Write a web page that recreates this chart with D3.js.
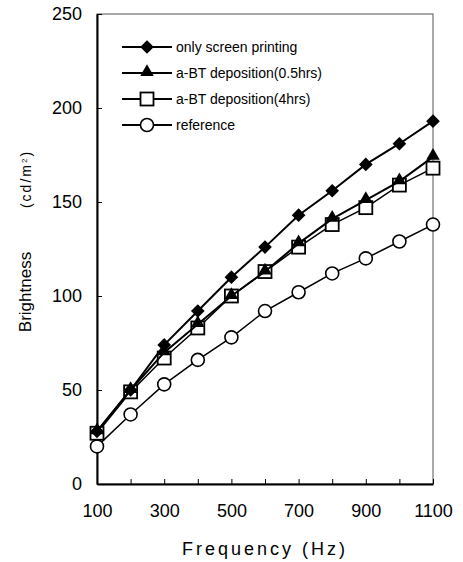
<!DOCTYPE html>
<html>
<head>
<meta charset="utf-8">
<script src="https://cdn.jsdelivr.net/npm/d3@7"></script>
<style>
  body { margin: 0; background: #fff; }
  svg text { font-family: "Liberation Sans", Arial, sans-serif; fill: #000; }
</style>
</head>
<body>
<div id="chart"></div>
<script>
// data
const frequency = [100, 200, 300, 400, 500, 600, 700, 800, 900, 1000, 1100];
const screenPrinting = [28, 50, 74, 92, 110, 126, 143, 156, 170, 181, 193];
const bt05hrs = [28, 50, 70, 85, 100, 113, 128, 141, 151, 161, 174];
const bt4hrs = [27, 49, 67, 83, 100, 113, 126, 138, 147, 159, 168];
const reference = [20, 37, 53, 66, 78, 92, 102, 112, 120, 129, 138];

const seriesNames = ["only screen printing", "a-BT deposition(0.5hrs)", "a-BT deposition(4hrs)", "reference"];
const seriesValues = [screenPrinting, bt05hrs, bt4hrs, reference];
const seriesMarkers = ["diamond", "triangle", "square", "circle"];

const xTicks = [100, 300, 500, 700, 900, 1100];
const yTicks = [0, 50, 100, 150, 200, 250];

const width = 463, height = 562;
const margin = {top: 14, right: 30, bottom: 78, left: 97};

let svg = d3.select("#chart")
    .append("svg")
    .attr("width", width)
    .attr("height", height);

let x = d3.scaleLinear()
    .domain([100, 1100])
    .range([margin.left, width - margin.right]);

let y = d3.scaleLinear()
    .domain([0, 250])
    .range([height - margin.bottom, margin.top]);

// frame
svg.append("rect")
    .attr("x", x(100))
    .attr("y", y(250))
    .attr("width", x(1100) - x(100))
    .attr("height", y(0) - y(250))
    .attr("fill", "none")
    .attr("stroke", "#555")
    .attr("stroke-width", 1);

// axes with inward ticks
let xAxis = d3.axisBottom(x)
    .tickValues(d3.range(100, 1101, 100))
    .tickSizeInner(-5)
    .tickSizeOuter(0)
    .tickFormat(d => xTicks.includes(d) ? d : "")
    .tickPadding(20);

let gx = svg.append("g")
    .attr("transform", `translate(0,${y(0)})`)
    .call(xAxis);

let yAxis = d3.axisLeft(y)
    .tickValues(yTicks)
    .tickSizeInner(-5)
    .tickSizeOuter(0)
    .tickPadding(15);

let gy = svg.append("g")
    .attr("transform", `translate(${x(100)},0)`)
    .call(yAxis);

[gx, gy].forEach(g => {
    g.select(".domain").attr("stroke", "#000").attr("stroke-width", 2);
    g.selectAll(".tick line").attr("stroke", "#000").attr("stroke-width", 1);
    g.selectAll(".tick text")
        .style("font-family", "Liberation Sans, Arial, sans-serif")
        .style("font-size", "18px")
        .attr("fill", "#000");
});

// axis titles
svg.append("text")
    .attr("x", (x(100) + x(1100)) / 2)
    .attr("y", 555)
    .attr("text-anchor", "middle")
    .style("font-size", "18px")
    .style("letter-spacing", "3px")
    .text("Frequency (Hz)");

svg.append("text")
    .attr("transform", "translate(31,292) rotate(-90)")
    .attr("text-anchor", "middle")
    .style("font-size", "17px")
    .text("Brightness");

let unit = svg.append("text")
    .attr("transform", "translate(31,179) rotate(-90)")
    .attr("text-anchor", "middle")
    .style("font-size", "14px")
    .style("letter-spacing", "2px");
unit.append("tspan").text("(cd/m");
unit.append("tspan").attr("baseline-shift", "super").style("font-size", "8px").text("2");
unit.append("tspan").text(")");

// marker drawing
function drawMarker(g, type, cx, cy) {
    if (type === "diamond") {
        g.append("path")
            .attr("d", d3.symbol().type(d3.symbolDiamond2).size(90)())
            .attr("transform", `translate(${cx},${cy}) scale(1.15)`)
            .attr("fill", "#000");
    } else if (type === "triangle") {
        g.append("path")
            .attr("d", d3.symbol().type(d3.symbolTriangle).size(80)())
            .attr("transform", `translate(${cx},${cy - 1})`)
            .attr("fill", "#000");
    } else if (type === "square") {
        g.append("rect")
            .attr("x", cx - 6.5).attr("y", cy - 6.5)
            .attr("width", 13).attr("height", 13)
            .attr("fill", "#fff").attr("stroke", "#000").attr("stroke-width", 1.8);
    } else {
        g.append("circle")
            .attr("cx", cx).attr("cy", cy).attr("r", 6.5)
            .attr("fill", "#fff").attr("stroke", "#000").attr("stroke-width", 1.6);
    }
}

let line = d3.line()
    .x((d, i) => x(frequency[i]))
    .y(d => y(d));

// draw from bottom series up so filled markers sit on top
for (let s = seriesValues.length - 1; s >= 0; s--) {
    let g = svg.append("g").attr("class", "series");
    g.append("path")
        .datum(seriesValues[s])
        .attr("d", line)
        .attr("fill", "none")
        .attr("stroke", "#000")
        .attr("stroke-width", s < 2 ? 2 : 1.5);
    seriesValues[s].forEach((v, i) => drawMarker(g, seriesMarkers[s], x(frequency[i]), y(v)));
}

// legend
let legend = svg.append("g").attr("class", "legend");
seriesNames.forEach((name, i) => {
    let ly = 47 + i * 26;
    legend.append("line")
        .attr("x1", 122).attr("x2", 172)
        .attr("y1", ly).attr("y2", ly)
        .attr("stroke", "#000").attr("stroke-width", 2);
    drawMarker(legend, seriesMarkers[i], 147, ly);
    legend.append("text")
        .attr("x", 176)
        .attr("y", ly + 5)
        .style("font-size", "14px")
        .text(name);
});
</script>
</body>
</html>
